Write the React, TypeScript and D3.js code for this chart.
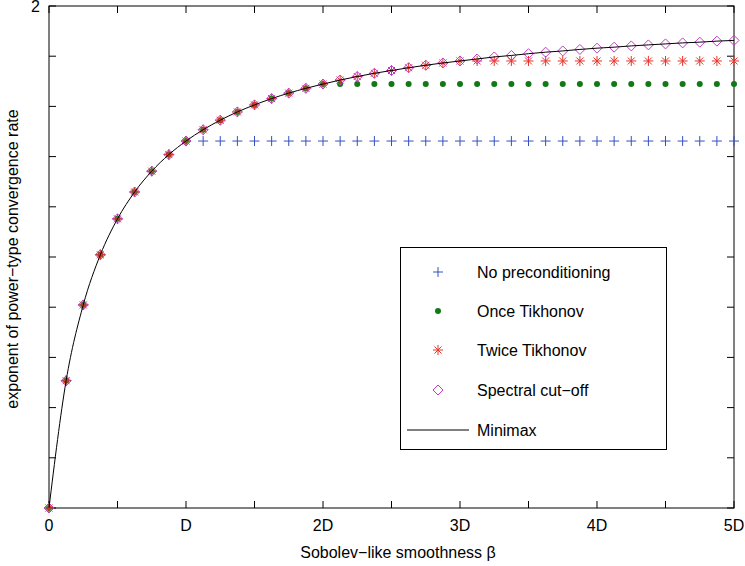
import React from "react";
import * as d3 from "d3";

// beta in units of D, sampled every D/8
const betas = d3.range(0, 41).map((k) => k / 8);
const xTickVals = [0, 1, 2, 3, 4, 5];
const xTickLabels = ["0", "D", "2D", "3D", "4D", "5D"];
const xMinorTicks = [0.5, 1.5, 2.5, 3.5, 4.5];
const yTickVals = [0, 0.2, 0.4, 0.6, 0.8, 1, 1.2, 1.4, 1.6, 1.8, 2];

const minimax = [
  0, 0.507, 0.809, 1.009, 1.152, 1.259, 1.342, 1.408, 1.462, 1.507, 1.545,
  1.578, 1.606, 1.631, 1.653, 1.672, 1.689, 1.705, 1.719, 1.732, 1.743, 1.754,
  1.764, 1.773, 1.781, 1.789, 1.797, 1.803, 1.81, 1.816, 1.821, 1.827, 1.832,
  1.836, 1.841, 1.845, 1.849, 1.853, 1.856, 1.86, 1.863,
];
const noPrec = [
  0, 0.507, 0.809, 1.009, 1.152, 1.259, 1.342, 1.408, 1.462, 1.462, 1.462,
  1.462, 1.462, 1.462, 1.462, 1.462, 1.462, 1.462, 1.462, 1.462, 1.462, 1.462,
  1.462, 1.462, 1.462, 1.462, 1.462, 1.462, 1.462, 1.462, 1.462, 1.462, 1.462,
  1.462, 1.462, 1.462, 1.462, 1.462, 1.462, 1.462, 1.462,
];
const onceTik = [
  0, 0.507, 0.809, 1.009, 1.152, 1.259, 1.342, 1.408, 1.462, 1.507, 1.545,
  1.578, 1.606, 1.631, 1.653, 1.672, 1.689, 1.689, 1.689, 1.689, 1.689, 1.689,
  1.689, 1.689, 1.689, 1.689, 1.689, 1.689, 1.689, 1.689, 1.689, 1.689, 1.689,
  1.689, 1.689, 1.689, 1.689, 1.689, 1.689, 1.689, 1.689,
];
const twiceTik = [
  0, 0.507, 0.809, 1.009, 1.152, 1.259, 1.342, 1.408, 1.462, 1.507, 1.545,
  1.578, 1.606, 1.631, 1.653, 1.672, 1.689, 1.705, 1.719, 1.732, 1.743, 1.754,
  1.764, 1.773, 1.781, 1.781, 1.781, 1.781, 1.781, 1.781, 1.781, 1.781, 1.781,
  1.781, 1.781, 1.781, 1.781, 1.781, 1.781, 1.781, 1.781,
];
const spectral = [
  0, 0.507, 0.809, 1.009, 1.152, 1.259, 1.342, 1.408, 1.462, 1.507, 1.545,
  1.578, 1.606, 1.631, 1.653, 1.672, 1.689, 1.705, 1.719, 1.732, 1.743, 1.754,
  1.764, 1.773, 1.781, 1.789, 1.797, 1.803, 1.81, 1.816, 1.821, 1.827, 1.832,
  1.836, 1.841, 1.845, 1.849, 1.853, 1.856, 1.86, 1.863,
];

const BLUE = "#3550c0";
const GREEN = "#117a17";
const RED = "#e8342a";
const MAGENTA = "#c43ec4";
const FONT = "'Liberation Sans', Arial, Helvetica, sans-serif";
const FS = 16;

const W = 745;
const H = 566;
const left = 49, right = 734, top = 6, bottom = 508;

const Plus = ({ x, y, c }) => (
  <path d={`M${x - 5},${y}H${x + 5}M${x},${y - 5}V${y + 5}`} stroke={c} strokeWidth={1} fill="none" />
);
const Dot = ({ x, y, c }) => <circle cx={x} cy={y} r={3} fill={c} />;
const Star = ({ x, y, c }) => (
  <path
    d={`M${x - 5},${y}H${x + 5}M${x},${y - 5}V${y + 5}M${x - 3.5},${y - 3.5}L${x + 3.5},${y + 3.5}M${x - 3.5},${y + 3.5}L${x + 3.5},${y - 3.5}`}
    stroke={c} strokeWidth={1} fill="none"
  />
);
const Diamond = ({ x, y, c }) => (
  <path d={`M${x},${y - 5}L${x + 5},${y}L${x},${y + 5}L${x - 5},${y}Z`} stroke={c} strokeWidth={1} fill="none" />
);

export default function App() {
  const x = d3.scaleLinear().domain([0, 5]).range([left, right]);
  const y = d3.scaleLinear().domain([0, 2]).range([bottom, top]);

  const line = d3.line<number>()
    .x((_, i) => x(betas[i]))
    .y((d) => y(d))
    .curve(d3.curveMonotoneX);

  const series = [
    { name: "No preconditioning", vals: noPrec, M: Plus, c: BLUE },
    { name: "Once Tikhonov", vals: onceTik, M: Dot, c: GREEN },
    { name: "Twice Tikhonov", vals: twiceTik, M: Star, c: RED },
    { name: "Spectral cut\u2212off", vals: spectral, M: Diamond, c: MAGENTA },
  ];

  const legendRows = [272, 311, 350, 390];

  return (
    <svg width={W} height={H} style={{ position: "absolute", left: 0, top: 0, background: "#fff" }} fontFamily={FONT}>
      <rect x={0} y={0} width={W} height={H} fill="#fff" />
      {/* axes box */}
      <rect x={left} y={top} width={right - left} height={bottom - top} fill="none" stroke="#000" strokeWidth={1} />
      {[...xTickVals, ...xMinorTicks].map((t, i) => (
        <g key={"xt" + i}>
          <line x1={x(t)} x2={x(t)} y1={bottom} y2={bottom - 7} stroke="#000" />
          <line x1={x(t)} x2={x(t)} y1={top} y2={top + 7} stroke="#000" />
        </g>
      ))}
      {yTickVals.map((t, i) => (
        <g key={"yt" + i}>
          <line x1={left} x2={left + 7} y1={y(t)} y2={y(t)} stroke="#000" />
          <line x1={right} x2={right - 7} y1={y(t)} y2={y(t)} stroke="#000" />
        </g>
      ))}
      {xTickVals.map((t, i) => (
        <text key={"xl" + i} x={x(t)} y={bottom + 23} textAnchor="middle" fontSize={FS} fill="#000">
          {xTickLabels[i]}
        </text>
      ))}
      <text x={left - 9} y={y(2) + 6} textAnchor="end" fontSize={FS} fill="#000">2</text>
      <text x={398} y={558} textAnchor="middle" fontSize={FS} fill="#000">Sobolev{"\u2212"}like smoothness β</text>
      <text transform={`translate(18,${259}) rotate(-90)`} textAnchor="middle" fontSize={FS} fill="#000">
        exponent of power{"\u2212"}type convergence rate
      </text>

      {/* markers */}
      {series.map((s) => (
        <g key={s.name}>
          {s.vals.map((v, i) => (
            <s.M key={i} x={x(betas[i])} y={y(v)} c={s.c} />
          ))}
        </g>
      ))}
      <path d={line(minimax) || ""} fill="none" stroke="#000" strokeWidth={1} />

      {/* legend */}
      <rect x={400.5} y={247.5} width={266} height={202} fill="#fff" stroke="#000" strokeWidth={1} />
      {series.map((s, i) => (
        <g key={"lg" + i}>
          <s.M x={438} y={legendRows[i]} c={s.c} />
          <text x={477} y={legendRows[i] + 6} fontSize={FS} fill="#000">{s.name}</text>
        </g>
      ))}
      <line x1={407} x2={469} y1={430} y2={430} stroke="#000" />
      <text x={477} y={436} fontSize={FS} fill="#000">Minimax</text>
    </svg>
  );
}
